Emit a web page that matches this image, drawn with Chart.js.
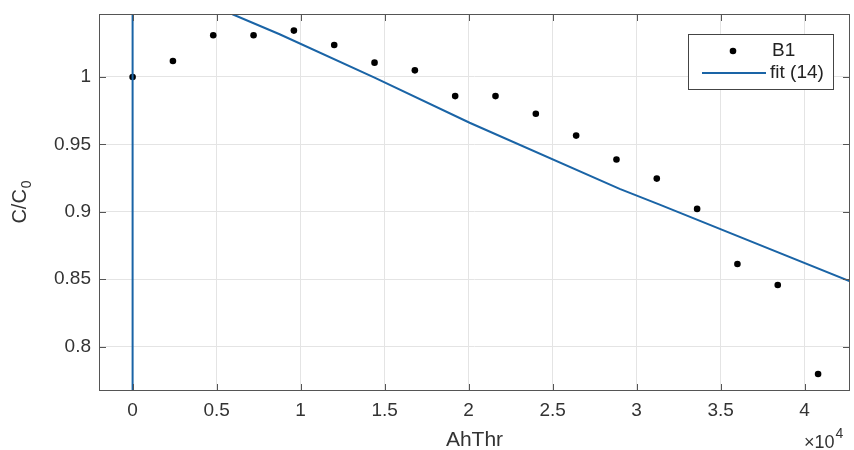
<!DOCTYPE html>
<html>
<head>
<meta charset="utf-8">
<script src="https://cdn.jsdelivr.net/npm/chart.js@4"></script>
<style>
  body { margin: 0; background: #fff; }
  canvas { display: block; }
</style>
</head>
<body>
<canvas id="grafico" width="854" height="450"></canvas>
<script>
// Datos medidos (B1)
const ahThr = [0, 2400, 4800, 7200, 9600, 12000, 14400, 16800, 19200, 21600, 24000, 26400, 28800, 31200, 33600, 36000, 38400, 40800];
const cRel = [1.0, 1.0118, 1.0309, 1.0309, 1.0344, 1.0237, 1.0106, 1.0049, 0.9858, 0.9858, 0.9727, 0.9565, 0.9387, 0.9246, 0.9021, 0.8612, 0.8456, 0.7796];

// Curva de ajuste
const ajusteX = [0, 0, 5950, 8750, 14400, 20060, 28990, 31370, 42700];
const ajusteY = [0.70, 1.10, 1.0465, 1.0317, 0.9995, 0.9660, 0.9170, 0.9053, 0.8483];

// Ejes
const xTicks = [0, 5000, 10000, 15000, 20000, 25000, 30000, 35000, 40000];
const yTicks = [0.8, 0.85, 0.9, 0.95, 1];
const xLim = [-2000, 42700];
const yLim = [0.767, 1.0467];

// Textos
const nombreSerie = "B1";
const nombreAjuste = "fit (14)";
const tituloX = "AhThr";
const tituloY = "C/C";
const tituloYSub = "0";
const exponenteX = "4";

const FUENTE = "'Liberation Sans', Arial, sans-serif";
const AZUL = "#1a64a6";
const GRIS = "#555";
const TEXTO = "#333";

// Marco, marcas internas, títulos y leyenda
const marcoPlugin = {
  id: "marco",
  afterDraw(chart) {
    const { ctx, chartArea: a, scales } = chart;
    ctx.save();
    ctx.strokeStyle = GRIS;
    ctx.lineWidth = 1;
    ctx.strokeRect(a.left + 0.5, a.top + 0.5, a.right - a.left - 1, a.bottom - a.top - 1);

    const L = 7;
    ctx.beginPath();
    xTicks.forEach(v => {
      const px = Math.round(scales.x.getPixelForValue(v)) + 0.5;
      ctx.moveTo(px, a.bottom); ctx.lineTo(px, a.bottom - L);
      ctx.moveTo(px, a.top); ctx.lineTo(px, a.top + L);
    });
    yTicks.forEach(v => {
      const py = Math.round(scales.y.getPixelForValue(v)) + 0.5;
      ctx.moveTo(a.left, py); ctx.lineTo(a.left + L, py);
      ctx.moveTo(a.right, py); ctx.lineTo(a.right - L, py);
    });
    ctx.stroke();

    // Título X
    ctx.fillStyle = TEXTO;
    ctx.font = "21px " + FUENTE;
    ctx.textAlign = "center";
    ctx.textBaseline = "alphabetic";
    ctx.fillText(tituloX, (a.left + a.right) / 2, 446);

    // Multiplicador x10^4
    ctx.textAlign = "left";
    ctx.font = "18px " + FUENTE;
    ctx.fillText("\u00d710", 804, 448);
    const w10 = ctx.measureText("\u00d710").width;
    ctx.font = "14px " + FUENTE;
    ctx.fillText(exponenteX, 804 + w10 + 1, 438);

    // Título Y con subíndice
    ctx.save();
    ctx.translate(26, (a.top + a.bottom) / 2);
    ctx.rotate(-Math.PI / 2);
    ctx.font = "20px " + FUENTE;
    const wc = ctx.measureText(tituloY).width;
    ctx.font = "14px " + FUENTE;
    const ws = ctx.measureText(tituloYSub).width;
    const x0 = -(wc + ws) / 2;
    ctx.font = "20px " + FUENTE;
    ctx.fillText(tituloY, x0, 0);
    ctx.font = "14px " + FUENTE;
    ctx.fillText(tituloYSub, x0 + wc + 1, 5);
    ctx.restore();

    // Leyenda
    ctx.fillStyle = "#fff";
    ctx.fillRect(688, 34, 145, 55);
    ctx.strokeStyle = "#444";
    ctx.strokeRect(688.5, 34.5, 145, 55);
    ctx.fillStyle = "#000";
    ctx.beginPath();
    ctx.arc(733, 51, 3.3, 0, Math.PI * 2);
    ctx.fill();
    ctx.strokeStyle = AZUL;
    ctx.lineWidth = 2;
    ctx.beginPath();
    ctx.moveTo(702, 73); ctx.lineTo(766, 73);
    ctx.stroke();
    ctx.fillStyle = "#222";
    ctx.font = "19px " + FUENTE;
    ctx.textBaseline = "middle";
    ctx.fillText(nombreSerie, 772, 51);
    ctx.fillText(nombreAjuste, 770, 73);
    ctx.restore();
  }
};

const ctx = document.getElementById("grafico").getContext("2d");

new Chart(ctx, {
  type: "scatter",
  data: {
    datasets: [
      {
        label: nombreSerie,
        data: ahThr.map((x, i) => ({ x, y: cRel[i] })),
        backgroundColor: "#000",
        borderColor: "#000",
        pointRadius: 3.3,
        pointBorderWidth: 0,
        order: 1
      },
      {
        label: nombreAjuste,
        data: ajusteX.map((x, i) => ({ x, y: ajusteY[i] })),
        showLine: true,
        borderColor: AZUL,
        borderWidth: 2,
        pointRadius: 0,
        tension: 0,
        order: 0
      }
    ]
  },
  options: {
    responsive: false,
    animation: false,
    layout: { padding: { left: 0, right: 4, top: 14, bottom: 0 } },
    plugins: { legend: { display: false }, tooltip: { enabled: false } },
    scales: {
      x: {
        type: "linear",
        min: xLim[0],
        max: xLim[1],
        afterBuildTicks: s => { s.ticks = xTicks.map(v => ({ value: v })); },
        afterFit: s => { s.height = 59; s.paddingLeft = 0; s.paddingRight = 0; },
        ticks: {
          callback: v => String(v / 10000),
          color: TEXTO,
          font: { family: FUENTE, size: 19 },
          padding: 8,
          maxRotation: 0
        },
        grid: { color: "#e4e4e4", drawTicks: false },
        border: { display: false }
      },
      y: {
        type: "linear",
        min: yLim[0],
        max: yLim[1],
        afterBuildTicks: s => { s.ticks = yTicks.map(v => ({ value: v })); },
        afterFit: s => { s.width = 99; s.paddingTop = 0; s.paddingBottom = 0; },
        ticks: {
          callback: v => String(v),
          color: TEXTO,
          font: { family: FUENTE, size: 19 },
          padding: 8
        },
        grid: { color: "#e4e4e4", drawTicks: false },
        border: { display: false }
      }
    }
  },
  plugins: [marcoPlugin]
});
</script>
</body>
</html>
